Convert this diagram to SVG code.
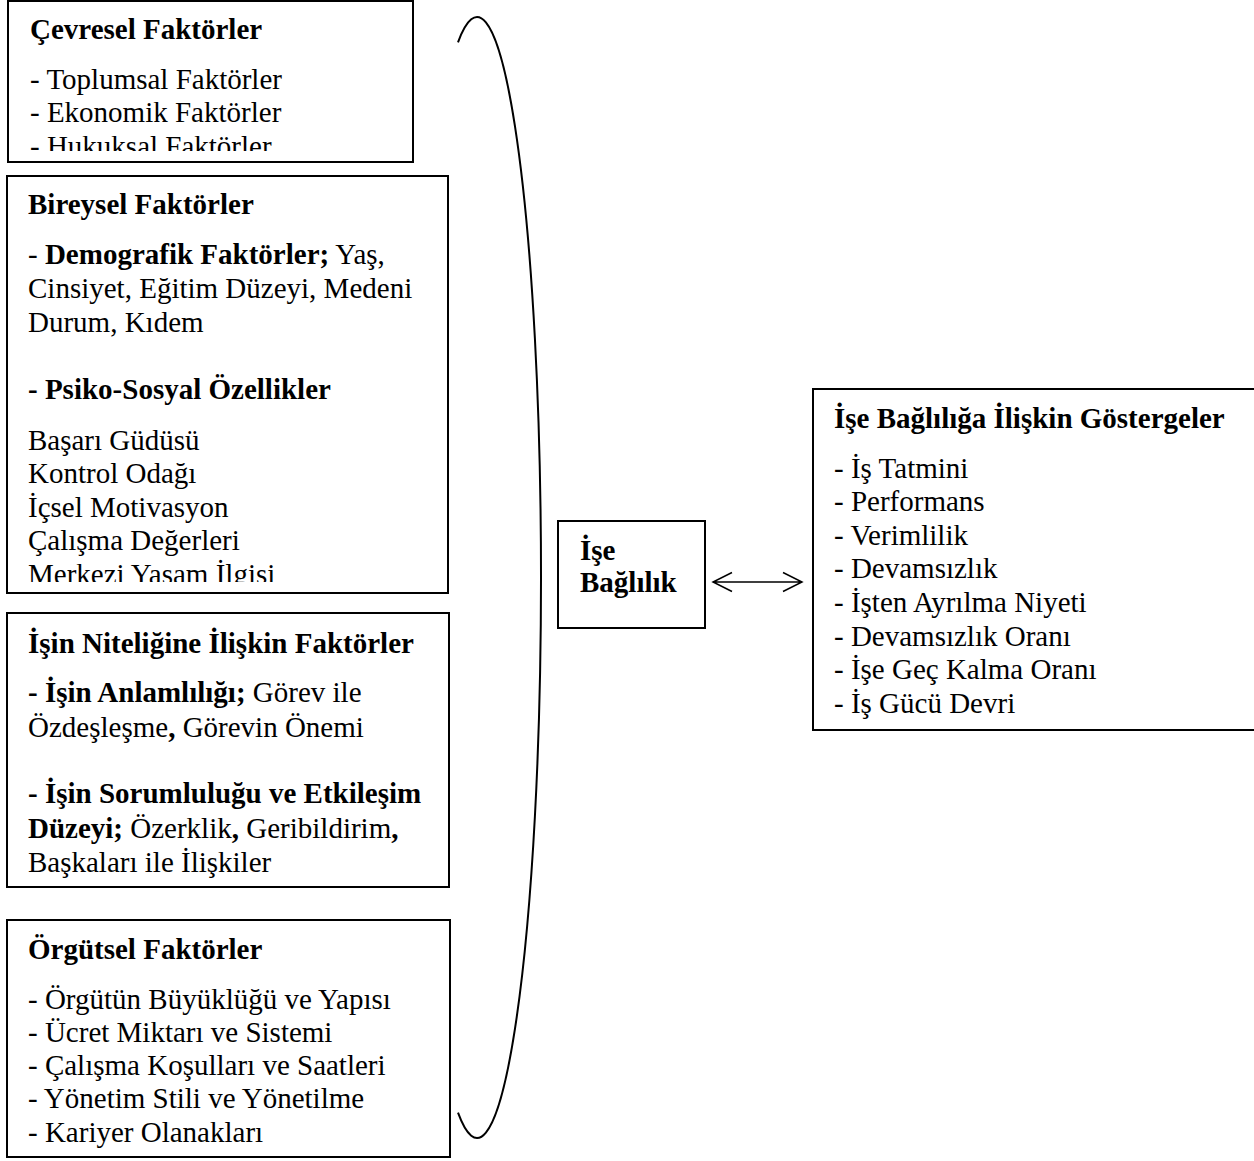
<svg xmlns="http://www.w3.org/2000/svg" width="1254" height="1161" viewBox="0 0 1254 1161">
<style>
text{font-family:"Liberation Serif","Times New Roman",serif;font-size:29px;fill:#000}
.b{font-weight:bold}
.box{fill:#fff;stroke:#000;stroke-width:2}
.con{fill:none;stroke:#000}
</style>
<defs>
<clipPath id="c1"><rect x="8" y="1" width="405" height="150"/></clipPath>
<clipPath id="c2"><rect x="7" y="176" width="441" height="406"/></clipPath>
</defs>
<rect x="0" y="0" width="1254" height="1161" fill="#fff"/>
<g id="cevresel">
<rect class="box" x="8" y="1" width="405" height="161"/>
<g clip-path="url(#c1)">
<text x="30" y="39" class="b">Çevresel Faktörler</text>
<text x="30" y="89">- Toplumsal Faktörler</text>
<text x="30" y="122">- Ekonomik Faktörler</text>
<text x="30" y="156">- Hukuksal Faktörler</text>
</g>
</g>
<g id="bireysel">
<rect class="box" x="7" y="176" width="441" height="417"/>
<g clip-path="url(#c2)">
<text x="28" y="214" class="b">Bireysel Faktörler</text>
<text x="28" y="264">- <tspan class="b">Demografik Faktörler;</tspan> Yaş,</text>
<text x="28" y="298">Cinsiyet, Eğitim Düzeyi, Medeni</text>
<text x="28" y="332">Durum, Kıdem</text>
<text x="28" y="399" class="b">- Psiko-Sosyal Özellikler</text>
<text x="28" y="450">Başarı Güdüsü</text>
<text x="28" y="483">Kontrol Odağı</text>
<text x="28" y="517">İçsel Motivasyon</text>
<text x="28" y="550">Çalışma Değerleri</text>
<text x="28" y="584">Merkezi Yaşam İlgisi</text>
</g>
</g>
<g id="isin-niteligi">
<rect class="box" x="7" y="613" width="442" height="274"/>
<text x="28" y="653" class="b">İşin Niteliğine İlişkin Faktörler</text>
<text x="28" y="702"><tspan class="b">- İşin Anlamlılığı;</tspan> Görev ile</text>
<text x="28" y="737">Özdeşleşme<tspan class="b">,</tspan> Görevin Önemi</text>
<text x="28" y="803" class="b">- İşin Sorumluluğu ve Etkileşim</text>
<text x="28" y="838"><tspan class="b">Düzeyi;</tspan> Özerklik<tspan class="b">,</tspan> Geribildirim<tspan class="b">,</tspan></text>
<text x="28" y="872">Başkaları ile İlişkiler</text>
</g>
<g id="orgutsel">
<rect class="box" x="7" y="920" width="443" height="237"/>
<text x="28" y="959" class="b">Örgütsel Faktörler</text>
<text x="28" y="1009">- Örgütün Büyüklüğü ve Yapısı</text>
<text x="28" y="1042">- Ücret Miktarı ve Sistemi</text>
<text x="28" y="1075">- Çalışma Koşulları ve Saatleri</text>
<text x="28" y="1108">- Yönetim Stili ve Yönetilme</text>
<text x="28" y="1142">- Kariyer Olanakları</text>
</g>
<g id="ise-baglilik">
<rect class="box" x="558" y="521" width="147" height="107"/>
<text x="580" y="560" class="b">İşe</text>
<text x="580" y="592" class="b">Bağlılık</text>
</g>
<g id="gostergeler">
<rect class="box" x="813" y="389" width="450" height="341"/>
<text x="834" y="428" class="b">İşe Bağlılığa İlişkin Göstergeler</text>
<text x="834" y="478">- İş Tatmini</text>
<text x="834" y="511">- Performans</text>
<text x="834" y="545">- Verimlilik</text>
<text x="834" y="578">- Devamsızlık</text>
<text x="834" y="612">- İşten Ayrılma Niyeti</text>
<text x="834" y="646">- Devamsızlık Oranı</text>
<text x="834" y="679">- İşe Geç Kalma Oranı</text>
<text x="834" y="713">- İş Gücü Devri</text>
</g>
<g id="connectors">
<path class="con" stroke-width="2" d="M 458 42.3 A 64 560.5 0 1 1 458 1112.7"/>
<path class="con" stroke-width="1.5" d="M 713 582 H 802 M 732 572.5 L 713 582 L 732 591.5 M 783 572.5 L 802 582 L 783 591.5"/>
</g>
</svg>
